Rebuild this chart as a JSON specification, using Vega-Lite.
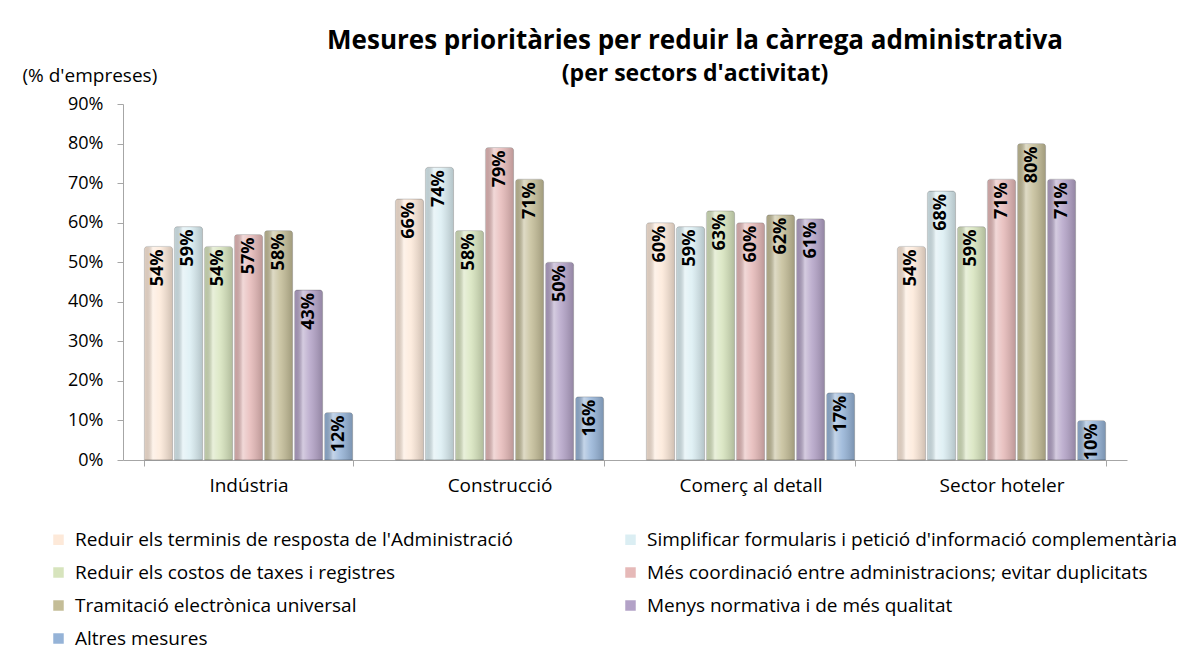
{
  "$schema": "https://vega.github.io/schema/vega-lite/v6.json",
  "width": 1004,
  "height": 356,
  "autosize": {"type": "none"},
  "padding": {"left": 123, "top": 104, "right": 65, "bottom": 195},
  "background": "white",
  "title": {
    "text": "Mesures prioritàries per reduir la càrrega administrativa",
    "subtitle": "(per sectors d'activitat)",
    "anchor": "middle",
    "dx": 70,
    "dy": 39,
    "offset": 19,
    "font": "Open Sans",
    "fontSize": 26,
    "fontWeight": "bold",
    "color": "#000000",
    "subtitleFont": "Open Sans",
    "subtitleFontSize": 23,
    "subtitleFontWeight": "bold",
    "subtitleColor": "#000000",
    "subtitlePadding": 9
  },
  "data": {
    "values": [
      {"sector": "Indústria", "mesura": "Reduir els terminis de resposta de l'Administració", "valor": 0.54},
      {"sector": "Indústria", "mesura": "Simplificar formularis i petició d'informació complementària", "valor": 0.59},
      {"sector": "Indústria", "mesura": "Reduir els costos de taxes i registres", "valor": 0.54},
      {"sector": "Indústria", "mesura": "Més coordinació entre administracions; evitar duplicitats", "valor": 0.57},
      {"sector": "Indústria", "mesura": "Tramitació electrònica universal", "valor": 0.58},
      {"sector": "Indústria", "mesura": "Menys normativa i de més qualitat", "valor": 0.43},
      {"sector": "Indústria", "mesura": "Altres mesures", "valor": 0.12},
      {"sector": "Construcció", "mesura": "Reduir els terminis de resposta de l'Administració", "valor": 0.66},
      {"sector": "Construcció", "mesura": "Simplificar formularis i petició d'informació complementària", "valor": 0.74},
      {"sector": "Construcció", "mesura": "Reduir els costos de taxes i registres", "valor": 0.58},
      {"sector": "Construcció", "mesura": "Més coordinació entre administracions; evitar duplicitats", "valor": 0.79},
      {"sector": "Construcció", "mesura": "Tramitació electrònica universal", "valor": 0.71},
      {"sector": "Construcció", "mesura": "Menys normativa i de més qualitat", "valor": 0.50},
      {"sector": "Construcció", "mesura": "Altres mesures", "valor": 0.16},
      {"sector": "Comerç al detall", "mesura": "Reduir els terminis de resposta de l'Administració", "valor": 0.60},
      {"sector": "Comerç al detall", "mesura": "Simplificar formularis i petició d'informació complementària", "valor": 0.59},
      {"sector": "Comerç al detall", "mesura": "Reduir els costos de taxes i registres", "valor": 0.63},
      {"sector": "Comerç al detall", "mesura": "Més coordinació entre administracions; evitar duplicitats", "valor": 0.60},
      {"sector": "Comerç al detall", "mesura": "Tramitació electrònica universal", "valor": 0.62},
      {"sector": "Comerç al detall", "mesura": "Menys normativa i de més qualitat", "valor": 0.61},
      {"sector": "Comerç al detall", "mesura": "Altres mesures", "valor": 0.17},
      {"sector": "Sector hoteler", "mesura": "Reduir els terminis de resposta de l'Administració", "valor": 0.54},
      {"sector": "Sector hoteler", "mesura": "Simplificar formularis i petició d'informació complementària", "valor": 0.68},
      {"sector": "Sector hoteler", "mesura": "Reduir els costos de taxes i registres", "valor": 0.59},
      {"sector": "Sector hoteler", "mesura": "Més coordinació entre administracions; evitar duplicitats", "valor": 0.71},
      {"sector": "Sector hoteler", "mesura": "Tramitació electrònica universal", "valor": 0.80},
      {"sector": "Sector hoteler", "mesura": "Menys normativa i de més qualitat", "valor": 0.71},
      {"sector": "Sector hoteler", "mesura": "Altres mesures", "valor": 0.10}
    ]
  },
  "encoding": {
    "x": {
      "field": "sector",
      "type": "nominal",
      "sort": ["Indústria", "Construcció", "Comerç al detall", "Sector hoteler"],
      "scale": {"paddingInner": 0.17, "paddingOuter": 0.085},
      "axis": {
        "title": null,
        "labelAngle": 0,
        "domainColor": "#a6a6a6",
        "tickColor": "#a6a6a6",
        "tickBand": "extent",
        "tickSize": 6,
        "labelPadding": 10,
        "labelFont": "Open Sans",
        "labelFontSize": 19,
        "labelColor": "#000000"
      }
    },
    "xOffset": {
      "field": "mesura",
      "type": "nominal",
      "sort": [
        "Reduir els terminis de resposta de l'Administració",
        "Simplificar formularis i petició d'informació complementària",
        "Reduir els costos de taxes i registres",
        "Més coordinació entre administracions; evitar duplicitats",
        "Tramitació electrònica universal",
        "Menys normativa i de més qualitat",
        "Altres mesures"
      ],
      "scale": {"paddingInner": 0.06}
    },
    "y": {
      "field": "valor",
      "type": "quantitative",
      "scale": {"domain": [0, 0.9]},
      "axis": {
        "values": [0, 0.1, 0.2, 0.3, 0.4, 0.5, 0.6, 0.7, 0.8, 0.9],
        "format": ".0%",
        "grid": false,
        "domainColor": "#a6a6a6",
        "tickColor": "#a6a6a6",
        "tickSize": 6,
        "labelPadding": 14,
        "labelFont": "Open Sans",
        "labelFontSize": 18,
        "labelColor": "#000000",
        "title": "(% d'empreses)",
        "titleAngle": 0,
        "titleAlign": "left",
        "titleBaseline": "middle",
        "titleX": -101,
        "titleY": -29,
        "titleFont": "Open Sans",
        "titleFontSize": 19,
        "titleFontWeight": "normal",
        "titleColor": "#000000"
      }
    }
  },
  "layer": [
    {
      "mark": {"type": "bar", "cornerRadiusTopLeft": 3, "cornerRadiusTopRight": 3},
      "encoding": {
        "color": {
          "field": "mesura",
          "type": "nominal",
          "scale": {
            "domain": [
              "Reduir els terminis de resposta de l'Administració",
              "Simplificar formularis i petició d'informació complementària",
              "Reduir els costos de taxes i registres",
              "Més coordinació entre administracions; evitar duplicitats",
              "Tramitació electrònica universal",
              "Menys normativa i de més qualitat",
              "Altres mesures"
            ],
            "range": ["#fde9d9", "#dbeef3", "#d7e4bd", "#e6b9b8", "#c4bd97", "#b3a2c7", "#95b3d7"]
          },
          "legend": {
            "title": null,
            "orient": "none",
            "direction": "horizontal",
            "legendX": -74,
            "legendY": 426,
            "columns": 2,
            "padding": 0,
            "symbolType": "square",
            "symbolSize": 110,
            "symbolStrokeWidth": 0,
            "symbolOpacity": 1,
            "labelFont": "Open Sans",
            "labelFontSize": 19,
            "labelColor": "#000000",
            "labelOffset": 7,
            "labelLimit": 700,
            "rowPadding": 13,
            "columnPadding": 108
          }
        }
      }
    },
    {
      "mark": {
        "type": "bar",
        "cornerRadiusTopLeft": 3,
        "cornerRadiusTopRight": 3,
        "stroke": "#000000",
        "strokeOpacity": 0.15,
        "strokeWidth": 1,
        "fill": {
          "gradient": "linear",
          "x1": 0, "y1": 0, "x2": 1, "y2": 0,
          "stops": [
            {"offset": 0, "color": "rgba(0,0,0,0.10)"},
            {"offset": 0.3, "color": "rgba(255,255,255,0.45)"},
            {"offset": 0.55, "color": "rgba(255,255,255,0.15)"},
            {"offset": 1, "color": "rgba(0,0,0,0.18)"}
          ]
        }
      },
      "encoding": {}
    },
    {
      "mark": {
        "type": "text",
        "angle": 270,
        "align": "right",
        "baseline": "middle",
        "dx": -3,
        "font": "Open Sans",
        "fontSize": 18,
        "fontWeight": "bold",
        "color": "#000000"
      },
      "encoding": {
        "text": {"field": "valor", "type": "quantitative", "format": ".0%"}
      }
    }
  ],
  "config": {
    "view": {"stroke": null}
  }
}
